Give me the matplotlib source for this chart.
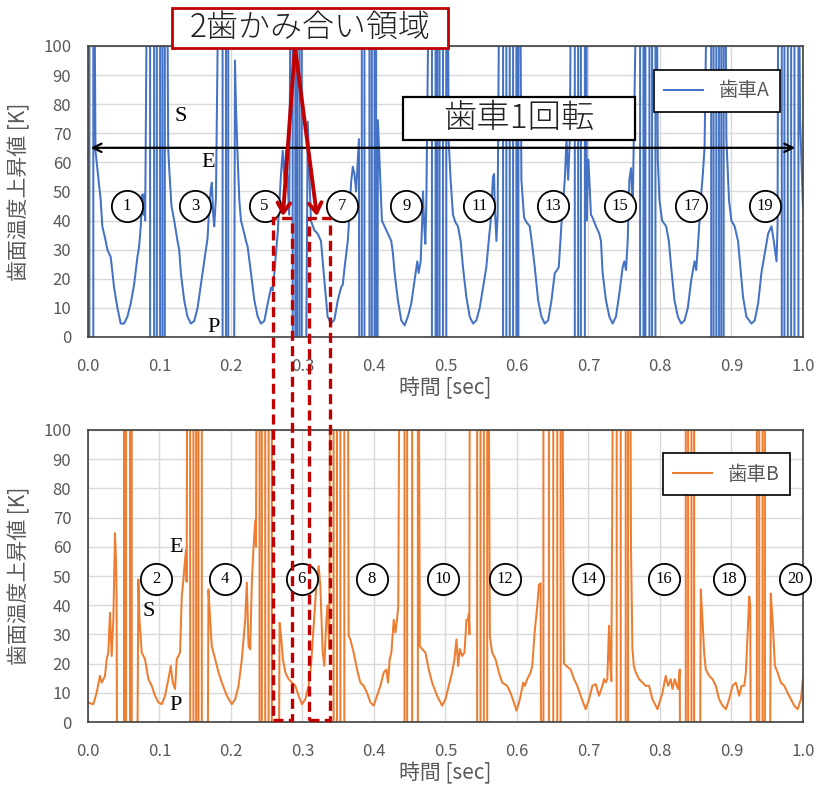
import matplotlib
matplotlib.use("Agg")
import matplotlib.pyplot as plt
import numpy as np
from matplotlib.patches import Rectangle

plt.rcParams["font.family"] = ["Noto Sans CJK JP", "DejaVu Sans"]

# gear A tooth-surface temperature rise (time [s], value [K]); off-scale excursions kept as 150 / -50
gear_a_points = [
    (0.0, 150), (0.002, 150), (0.002, -50), (0.0075, -50), (0.0075, 150), (0.0085, 150), (0.0105, 64),
    # tooth 1
    (0.0131, 58), (0.0178, 47), (0.0201, 38), (0.0248, 33), (0.0271, 30), (0.0318, 27.5), (0.0365, 17),
    (0.0412, 10), (0.0458, 4.6), (0.0505, 4.6), (0.0552, 7), (0.0598, 11.5), (0.0645, 18), (0.0692, 27.5),
    (0.0715, 31), (0.0738, 38), (0.0752, 45), (0.0762, 49), (0.0775, 42), (0.0785, 49), (0.0800, 40),
    (0.0832, 150), (0.0869, 150), (0.0869, -50), (0.0925, -50), (0.0925, 150), (0.0963, 150), (0.0963, -50),
    (0.1009, -50), (0.1009, 150), (0.1042, 150), (0.1042, -50), (0.1075, -50), (0.1075, 150), (0.1103, 150),
    (0.1122, 65),
    # tooth 3
    (0.1136, 58), (0.1168, 45), (0.1206, 40), (0.1252, 33), (0.1276, 30), (0.1299, 22), (0.1346, 12.6),
    (0.1392, 7), (0.1439, 4.6), (0.1486, 5.5), (0.1533, 10), (0.1579, 18), (0.1626, 26), (0.1673, 34),
    (0.1696, 45), (0.1719, 51), (0.1733, 53), (0.1752, 42), (0.1766, 38), (0.1790, 48),
    (0.1836, 150), (0.1883, 150), (0.1883, -50), (0.1930, -50), (0.1930, 150), (0.1962, 150), (0.1962, -50),
    (0.2040, -50), (0.2056, 95),
    # tooth 5
    (0.2070, 79), (0.2093, 62), (0.2117, 47), (0.2140, 40), (0.2187, 35.5), (0.2210, 33), (0.2233, 31),
    (0.2280, 22), (0.2327, 12.6), (0.2374, 7), (0.2420, 4.6), (0.2467, 5.5), (0.2514, 11.5), (0.2561, 17),
    (0.2584, 16), (0.2607, 22), (0.2654, 36), (0.2700, 56), (0.2724, 64), (0.2747, 54), (0.2770, 64),
    (0.2815, 42),
    (0.2839, 150), (0.2863, 150), (0.2863, -50), (0.2900, -50), (0.2900, 150), (0.2924, 150), (0.2924, -50),
    (0.2957, -50), (0.2957, 150), (0.2990, 150), (0.2990, -50), (0.3040, -50), (0.3074, 74),
    # tooth 7
    (0.3095, 58), (0.3118, 40), (0.3165, 36.7), (0.3212, 35.5), (0.3259, 33), (0.3306, 19.5), (0.3352, 7),
    (0.3400, 4.6), (0.3447, 6), (0.3494, 12.6), (0.3540, 17), (0.3564, 18), (0.3590, 24), (0.3634, 33),
    (0.3657, 42), (0.3680, 53), (0.3704, 58.5), (0.3727, 56), (0.3750, 50), (0.3790, 68),
    (0.3797, -50), (0.3830, -50), (0.3830, 150), (0.3867, 150), (0.3867, -50), (0.3937, -50), (0.3937, 150),
    (0.3970, 150), (0.3970, -50), (0.4008, -50), (0.4008, 150), (0.4030, 150), (0.4030, -50), (0.4048, -50),
    (0.4055, 74.5),
    # tooth 9
    (0.4094, 50), (0.4111, 40), (0.4149, 38), (0.4195, 35.5), (0.4242, 33), (0.4265, 28.7), (0.4289, 22),
    (0.4335, 12.6), (0.4382, 5.7), (0.4429, 4), (0.4475, 7), (0.4522, 11.5), (0.4569, 19.5), (0.4606, 26),
    (0.4625, 22), (0.4653, 26), (0.4672, 38), (0.4686, 50), (0.4700, 40), (0.4718, 32), (0.4732, 45),
    (0.4778, 150), (0.4811, 150), (0.4811, -50), (0.4862, -50), (0.4862, 150), (0.4886, 150), (0.4886, -50),
    (0.4918, -50), (0.4918, 150), (0.4965, 150), (0.4965, -50), (0.5012, -50), (0.5012, 150), (0.5030, 150),
    (0.5044, 68),
    # tooth 11
    (0.5072, 54), (0.5105, 42), (0.5138, 39.5), (0.5175, 38), (0.5212, 33), (0.5245, 24), (0.5292, 13.8),
    (0.5339, 7), (0.5386, 4.6), (0.5432, 5.7), (0.5479, 10), (0.5526, 17), (0.5572, 24), (0.5605, 33),
    (0.5633, 40), (0.5665, 55), (0.5680, 56), (0.5689, 45), (0.5713, 33), (0.5730, 42),
    (0.5759, 150), (0.5806, 150), (0.5806, -50), (0.5852, -50), (0.5852, 150), (0.5899, 150), (0.5899, -50),
    (0.5946, -50), (0.5946, 150), (0.5992, 150), (0.5992, -50), (0.6020, -50), (0.6020, 150), (0.6040, 150),
    (0.6062, 54),
    # tooth 13
    (0.6100, 41), (0.6132, 39.5), (0.6179, 38), (0.6216, 31), (0.6249, 24), (0.6296, 12.6), (0.6342, 7),
    (0.6389, 4.6), (0.6436, 5.7), (0.6483, 12.6), (0.6529, 22), (0.6562, 23), (0.6585, 24), (0.6623, 39),
    (0.6669, 54), (0.6693, 68), (0.6716, 54), (0.6740, 68),
    (0.6763, 150), (0.6809, 150), (0.6809, -50), (0.6856, -50), (0.6856, 150), (0.6894, 150), (0.6894, -50),
    (0.6950, -50), (0.6950, 150), (0.6974, 150), (0.6974, 40),
    # tooth 15
    (0.6997, 61), (0.7011, 55), (0.7035, 42), (0.7058, 41), (0.7105, 38), (0.7151, 35.5), (0.7175, 33),
    (0.7198, 22), (0.7245, 12.6), (0.7292, 7), (0.7338, 4.6), (0.7385, 7), (0.7432, 15), (0.7479, 24),
    (0.7502, 26), (0.7525, 23), (0.7549, 33), (0.7572, 54), (0.7595, 58), (0.7619, 45),
    (0.7689, 150), (0.7722, 150), (0.7722, -50), (0.7769, -50), (0.7769, 150), (0.7797, 150), (0.7797, -50),
    (0.7853, -50), (0.7853, 150), (0.7890, 150), (0.7890, -50), (0.7937, -50), (0.7937, 150), (0.7950, 150),
    (0.7970, 61),
    # tooth 17
    (0.7993, 47), (0.8030, 40), (0.8087, 38), (0.8124, 33), (0.8157, 24), (0.8203, 12.6), (0.8250, 7),
    (0.8297, 4.6), (0.8344, 5.7), (0.8390, 10), (0.8437, 19.5), (0.8484, 26), (0.8507, 23), (0.8530, 31),
    (0.8577, 49), (0.8600, 56), (0.8624, 65),
    (0.8671, 150), (0.8717, 150), (0.8717, -50), (0.8750, -50), (0.8750, 150), (0.8788, 150), (0.8788, -50),
    (0.8825, -50), (0.8825, 150), (0.8858, 150), (0.8858, -50), (0.8891, -50), (0.8891, 150), (0.8910, 150),
    (0.8929, 68),
    # tooth 19
    (0.8966, 47), (0.8999, 40), (0.9045, 38), (0.9092, 33), (0.9125, 24), (0.9162, 13.8), (0.9209, 7),
    (0.9279, 4.6), (0.9326, 5.7), (0.9373, 11.5), (0.9419, 22), (0.9466, 28.7), (0.9513, 35.5), (0.9560, 38),
    (0.9592, 33), (0.9630, 26), (0.9645, 38),
    (0.9657, 150), (0.9704, 150), (0.9704, -50), (0.9741, -50), (0.9741, 150), (0.9788, 150), (0.9788, -50),
    (0.9835, -50), (0.9835, 150), (0.9881, 150), (0.9881, -50), (0.9937, -50), (0.9937, 150), (0.9960, 75),
    (1.0, 45),
]

# gear B
gear_b_points = [
    (0.0, 6.7), (0.0075, 6.1), (0.0121, 10), (0.0168, 15.8), (0.0191, 13.5), (0.0215, 14.5), (0.0238, 15.8),
    (0.0262, 21.5), (0.0285, 23.8), (0.0308, 37.4), (0.0332, 22.6), (0.0355, 35), (0.0378, 64.7),
    (0.0392, 55.6), (0.0400, 45),
    (0.0411, -50), (0.0504, -50), (0.0504, 150), (0.0532, 150), (0.0532, -50), (0.0588, -50), (0.0588, 150),
    (0.0612, 150), (0.0612, -50), (0.0682, -50), (0.0705, 48.8),
    # tooth 2
    (0.0720, 35), (0.0752, 23.8), (0.0798, 21.5), (0.0845, 14.7), (0.0892, 12.4), (0.0938, 9), (0.0985, 6.7),
    (0.1032, 6.1), (0.1078, 9), (0.1125, 14.7), (0.1158, 19.2), (0.1186, 13.5), (0.1218, 11.3), (0.1242, 21.5),
    (0.1265, 22.6), (0.1288, 23.8), (0.1312, 43), (0.1335, 48.8), (0.1358, 55.6), (0.1372, 59), (0.1380, 48),
    (0.1391, 150), (0.1429, 150), (0.1429, -50), (0.1475, -50), (0.1475, 150), (0.1513, 150), (0.1513, -50),
    (0.1545, -50), (0.1545, 150), (0.1592, 150), (0.1592, -50), (0.1670, -50), (0.1685, 45.4),
    # tooth 4
    (0.1709, 35), (0.1732, 26), (0.1779, 21.5), (0.1826, 17), (0.1872, 13.5), (0.1942, 9), (0.2012, 6.1),
    (0.2059, 7.8), (0.2106, 12.4), (0.2152, 21.5), (0.2199, 35), (0.2222, 47.7), (0.2246, 26), (0.2269, 24.9),
    (0.2292, 47.7), (0.2316, 60), (0.2340, 69), (0.2350, 60),
    (0.2362, 150), (0.2400, 150), (0.2400, -50), (0.2432, -50), (0.2432, 150), (0.2479, 150), (0.2479, -50),
    (0.2526, -50), (0.2526, 150), (0.2572, 150), (0.2572, -50), (0.2665, -50), (0.2680, 34),
    # tooth 6
    (0.2699, 30), (0.2727, 21.5), (0.2760, 17), (0.2806, 14.7), (0.2853, 13.5), (0.2900, 12.4), (0.2946, 9),
    (0.2993, 6.1), (0.3040, 7.8), (0.3086, 12.4), (0.3119, 19.2), (0.3157, 33), (0.3194, 46.5), (0.3227, 53.4),
    (0.3250, 46.5), (0.3283, 23.8), (0.3306, 19.2), (0.3334, 35), (0.3353, 40), (0.3375, 25),
    (0.3389, 150), (0.3436, 150), (0.3436, -50), (0.3483, -50), (0.3483, 150), (0.3530, 150), (0.3530, -50),
    (0.3586, -50), (0.3586, 150), (0.3633, 150), (0.3646, 29.5),
    # tooth 8
    (0.3669, 28.3), (0.3716, 23.8), (0.3763, 18), (0.3810, 13.5), (0.3856, 12.4), (0.3903, 10), (0.3950, 6.7),
    (0.3996, 5.6), (0.4043, 9), (0.4090, 12.4), (0.4137, 17), (0.4174, 18), (0.4197, 13.5), (0.4220, 21.5),
    (0.4244, 23.8), (0.4277, 35), (0.4300, 30.6), (0.4323, 35), (0.4340, 40),
    (0.4361, 150), (0.4427, 150), (0.4427, -50), (0.4464, -50), (0.4464, 150), (0.4534, 150), (0.4534, -50),
    (0.4614, -50), (0.4614, 150), (0.4625, 150), (0.4641, 26),
    # tooth 10
    (0.4673, 25), (0.4720, 23.8), (0.4767, 18), (0.4813, 13.5), (0.4883, 9), (0.4953, 5.6), (0.5000, 7.8),
    (0.5047, 12.4), (0.5093, 17), (0.5126, 21.5), (0.5154, 28.3), (0.5177, 19.2), (0.5201, 25), (0.5233, 22.6),
    (0.5266, 23.8), (0.5294, 35), (0.5313, 35), (0.5327, 37), (0.5335, 30),
    (0.5341, 150), (0.5443, 150), (0.5443, -50), (0.5490, -50), (0.5490, 150), (0.5537, 150), (0.5537, -50),
    (0.5584, -50), (0.5584, 150), (0.5600, 150), (0.5621, 29.5),
    # tooth 12
    (0.5653, 23.8), (0.5700, 21.5), (0.5747, 17), (0.5793, 13.5), (0.5863, 12.4), (0.5910, 10), (0.5957, 6.7),
    (0.5994, 3.9), (0.6041, 7.8), (0.6088, 13.5), (0.6111, 12.4), (0.6144, 14.7), (0.6191, 17), (0.6214, 19.2),
    (0.6247, 30.6), (0.6284, 39.7), (0.6307, 47), (0.6331, 47.5),
    (0.6340, -50), (0.6370, -50), (0.6370, 150), (0.6447, 150), (0.6447, -50), (0.6508, -50), (0.6508, 150),
    (0.6564, 150), (0.6564, -50), (0.6611, -50), (0.6611, 150), (0.6630, 150), (0.6657, 20),
    # tooth 14
    (0.6700, 19), (0.6751, 18), (0.6798, 14.7), (0.6844, 12.4), (0.6891, 9), (0.6961, 4.4), (0.7008, 7.8),
    (0.7055, 12.4), (0.7101, 13), (0.7148, 9), (0.7195, 12.4), (0.7218, 14.7), (0.7241, 13.5), (0.7264, 14.7),
    (0.7288, 33), (0.7302, 21.5), (0.7320, 14),
    (0.7348, 150), (0.7395, 150), (0.7395, -50), (0.7451, -50), (0.7451, 150), (0.7521, 150), (0.7521, -50),
    (0.7554, -50), (0.7554, 150), (0.7582, 150), (0.7595, 60), (0.7615, 25), (0.7635, 19.2),
    # tooth 16
    (0.7661, 17), (0.7708, 14.7), (0.7755, 13.5), (0.7801, 12.4), (0.7848, 12.4), (0.7895, 7.8), (0.7965, 4.4),
    (0.8035, 10), (0.8081, 15.8), (0.8114, 12.4), (0.8151, 14.7), (0.8175, 11.3), (0.8207, 14.7),
    (0.8235, 12.4), (0.8254, 11.3), (0.8277, 18),
    (0.8285, -50), (0.8361, -50), (0.8361, 150), (0.8394, 150), (0.8394, -50), (0.8441, -50), (0.8441, 150),
    (0.8478, 150), (0.8478, -50), (0.8555, -50), (0.8571, 45.4),
    # tooth 18
    (0.8595, 35), (0.8618, 23.8), (0.8641, 18), (0.8688, 15.8), (0.8735, 14.7), (0.8781, 12.4), (0.8828, 7.8),
    (0.8875, 5.6), (0.8922, 4.4), (0.8968, 7.8), (0.9015, 12.4), (0.9062, 13.5), (0.9109, 9), (0.9141, 12.4),
    (0.9179, 12.4), (0.9202, 17), (0.9225, 29.5), (0.9249, 43), (0.9263, 39.7),
    (0.9275, -50), (0.9356, -50), (0.9356, 150), (0.9389, 150), (0.9389, -50), (0.9435, -50), (0.9435, 150),
    (0.9468, 150), (0.9468, -50), (0.9535, -50), (0.9550, 44),
    # tooth 20
    (0.9575, 35), (0.9608, 19.2), (0.9645, 17), (0.9692, 13.5), (0.9739, 12.4), (0.9785, 10), (0.9832, 7.8),
    (0.9879, 5.6), (0.9925, 4.4), (0.9972, 7.8), (1.0, 14.7),
]

teeth_a = ["1", "3", "5", "7", "9", "11", "13", "15", "17", "19"]
teeth_b = ["2", "4", "6", "8", "10", "12", "14", "16", "18", "20"]
x_ticks = [0.0, 0.1, 0.2, 0.3, 0.4, 0.5, 0.6, 0.7, 0.8, 0.9, 1.0]
y_ticks = [0, 10, 20, 30, 40, 50, 60, 70, 80, 90, 100]

# label placement (layout only)
teeth_a_x = [0.054, 0.150, 0.247, 0.355, 0.445, 0.547, 0.650, 0.744, 0.844, 0.947]
teeth_b_x = [0.095, 0.191, 0.299, 0.397, 0.496, 0.583, 0.700, 0.805, 0.897, 0.989]

BLUE = "#4472C4"
ORANGE = "#ED7D31"
RED = "#C00000"
GRAY = "#595959"

fig = plt.figure(figsize=(8.16, 7.91), dpi=100)
ax_a = fig.add_axes([0.1078, 0.574, 0.8762, 0.3679])
ax_b = fig.add_axes([0.1078, 0.0872, 0.8762, 0.3692])

time_a, temp_a = np.array(gear_a_points).T
time_b, temp_b = np.array(gear_b_points).T

ax_a.plot(time_a, temp_a, color=BLUE, lw=1.45, label="歯車A", zorder=2)
ax_b.plot(time_b, temp_b, color=ORANGE, lw=1.45, label="歯車B", zorder=2)

for ax in (ax_a, ax_b):
    ax.set_xlim(0, 1.0)
    ax.set_ylim(0, 100)
    ax.set_xticks(x_ticks)
    ax.set_xticklabels([f"{v:.1f}" for v in x_ticks])
    ax.set_yticks(y_ticks)
    ax.grid(True, color="#d9d9d9", lw=1.0, zorder=0)
    ax.set_axisbelow(True)
    ax.tick_params(length=0, labelsize=12, labelcolor=GRAY, pad=15)
    ax.tick_params(axis="y", pad=12)
    for sp in ax.spines.values():
        sp.set_color("#404040")
        sp.set_linewidth(1.2)
    ax.set_xlabel("時間 [sec]", fontsize=15, color=GRAY, labelpad=2)
    ax.set_ylabel("歯面温度上昇値 [K]", fontsize=15, color=GRAY, labelpad=9)
    leg = ax.legend(loc="upper right", fancybox=False, edgecolor="black", fontsize=14,
                    labelcolor=GRAY, handlelength=2.0, borderpad=0.55, framealpha=1)
    leg.get_frame().set_linewidth(1.2)
    leg.set_zorder(8)

ax_a.get_legend().set_bbox_to_anchor((0.982, 0.952), transform=ax_a.transAxes)
ax_b.get_legend().set_bbox_to_anchor((0.996, 0.955), transform=ax_b.transAxes)


def circled(ax, xs, labels, y):
    ax.plot(xs, [y] * len(xs), "o", ms=22.5, mfc="white", mec="black", mew=1.3,
            clip_on=False, zorder=6)
    for x, lab in zip(xs, labels):
        ax.text(x, y, lab, ha="center", va="center", fontsize=12,
                family="Liberation Serif", zorder=7)


circled(ax_a, teeth_a_x, teeth_a, 45)
circled(ax_b, teeth_b_x, teeth_b, 49)

serif = dict(family="Liberation Serif", fontsize=16, ha="center", va="center", zorder=7)
ax_a.text(0.130, 75.6, "S", **serif)
ax_a.text(0.168, 59.8, "E", **serif)
ax_a.text(0.175, 3.4, "P", **serif)
ax_b.text(0.123, 59.6, "E", **serif)
ax_b.text(0.085, 38, "S", **serif)
ax_b.text(0.123, 5.8, "P", **serif)

# one revolution arrow and label
ax_a.annotate("", xy=(0.993, 65), xytext=(0.0, 65),
              arrowprops=dict(arrowstyle="<->,head_length=0.6,head_width=0.3", color="black", lw=1.6),
              annotation_clip=False, zorder=5)
ax_a.add_patch(Rectangle((0.4406, 67.7), 0.3245, 14.8, facecolor="white", edgecolor="black",
                         lw=1.6, zorder=5))
ax_a.text(0.603, 75.1, "歯車1回転", fontsize=24, fontweight="light", ha="center", va="center",
          color="#222222", zorder=6)

# dashed two-tooth meshing regions spanning both axes
to_fig = fig.transFigure.inverted()
for x0, x1 in [(0.2587, 0.2849), (0.3091, 0.3385)]:
    top = to_fig.transform(ax_a.transData.transform((x0, 41)))
    bot = to_fig.transform(ax_b.transData.transform((x1, 0.7)))
    fig.patches.append(Rectangle((top[0], bot[1]), bot[0] - top[0], top[1] - bot[1],
                                 transform=fig.transFigure, fill=False, edgecolor=RED,
                                 lw=2.4, ls=(0, (3, 1.6)), zorder=9))

# label box with arrows
for tip in [(0.2727, 41.5), (0.3203, 41.5)]:
    ax_a.annotate("", xy=tip, xytext=(0.2895, 99.7),
                  arrowprops=dict(arrowstyle="->,head_length=0.7,head_width=0.45", color=RED, lw=2.8,
                                  shrinkA=0, shrinkB=0),
                  annotation_clip=False, zorder=9)
fig.patches.append(Rectangle((0.2108, 0.9393), 0.3382, 0.0506, transform=fig.transFigure,
                             facecolor="white", edgecolor=RED, lw=2.0, zorder=10))
fig.text(0.380, 0.9646, "2歯かみ合い領域", fontsize=23, fontweight="light", ha="center", va="center",
         color="#222222", zorder=11)

fig.savefig("out.png", dpi=100)
